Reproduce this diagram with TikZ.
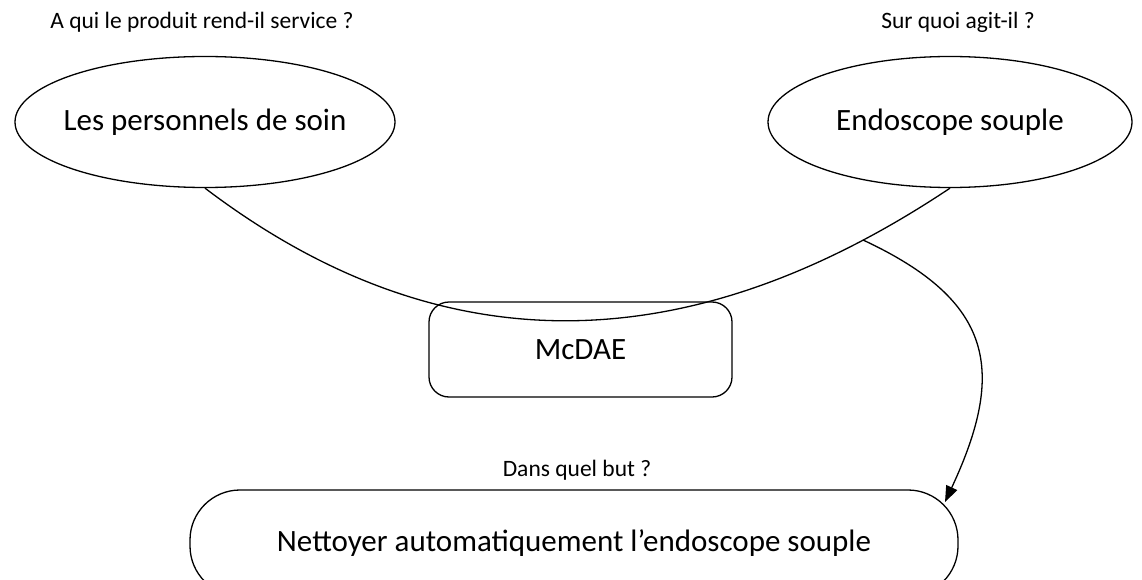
\documentclass[tikz,border=0pt]{standalone}
\usepackage{fontspec}
\setmainfont{Carlito}
\usetikzlibrary{shapes.geometric,arrows.meta}
\begin{document}
\begin{tikzpicture}[x=1pt,y=-1pt,
  big/.style={font=\fontsize{31}{34}\selectfont},
  small/.style={font=\fontsize{23.5}{26}\selectfont, inner sep=0pt},
  oval/.style={ellipse, draw, line width=1.3pt, inner xsep=-20pt, inner ysep=0pt, big},
  rbox/.style={rectangle, draw, line width=1.3pt, big},
  conn/.style={line width=1.3pt}]
\useasboundingbox (0,0) rectangle (1142,580);
\clip (0,0) rectangle (1142,580);
\node[oval, minimum width=380pt, minimum height=131pt] (pers) at (205,122) {Les personnels de soin};
\node[oval, minimum width=364pt, minimum height=131pt] (endo) at (950,122) {Endoscope souple};
\node[rbox, rounded corners=20pt, minimum width=303pt, minimum height=95pt] (mc) at (580.5,349.5) {McDAE};
\node[rbox, rounded corners=50pt, minimum width=768pt, minimum height=106pt] (bot) at (574,543) {Nettoyer automatiquement l’endoscope souple};
\node[small] (q1) at (202,22) {A qui le produit rend-il service ?};
\node[small] (q2) at (958,22) {Sur quoi agit-il ?};
\node[small] (q3) at (577,470) {Dans quel but ?};
\draw[conn] (pers.south) .. controls (438,365) and (685,365) .. coordinate[pos=0.89] (start) (endo.south);
\coordinate (tip) at (945,502);
\draw[conn, -{Triangle[length=16pt,width=12pt]}] (start) to[out=-25, in=65, looseness=1.35] (tip);
\end{tikzpicture}
\end{document}
